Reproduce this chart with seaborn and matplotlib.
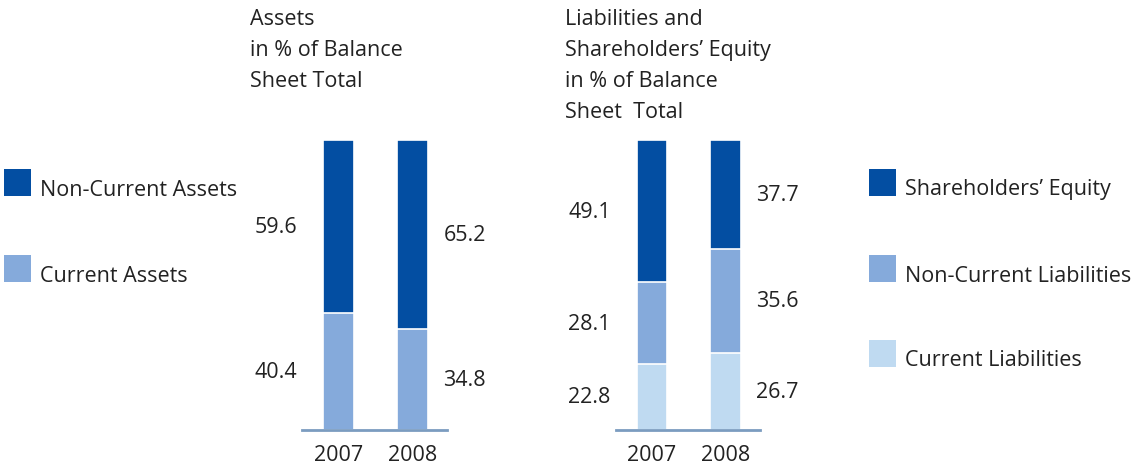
import matplotlib
matplotlib.use("Agg")
import matplotlib.pyplot as plt
import seaborn as sns
import pandas as pd
from matplotlib.patches import Rectangle

years = ["2007", "2008"]

# assets in % of balance sheet total
non_current_assets = [59.6, 65.2]
current_assets = [40.4, 34.8]

# liabilities and equity in % of balance sheet total
equity = [49.1, 37.7]
non_current_liab = [28.1, 35.6]
current_liab = [22.8, 26.7]

asset_labels = ["Non-Current Assets", "Current Assets"]
liab_labels = ["Shareholders\u2019 Equity", "Non-Current Liabilities", "Current Liabilities"]

dark = "#034ea2"
mid = "#85aadb"
light = "#bfdaf1"
base_col = "#7b9cc0"
txt = "#222222"

sns.set_theme(style="white")
plt.rcParams["font.family"] = ["Open Sans", "DejaVu Sans"]
FS = 15.5

W, H = 1138, 464
fig = plt.figure(figsize=(W / 100, H / 100), dpi=100)


def px_axes(x0, x1, ytop, ybot):
    return fig.add_axes([x0 / W, (H - ybot) / H, (x1 - x0) / W, (ybot - ytop) / H])


def stacked(ax, layers, colors):
    # layers bottom -> top; draw cumulative totals from largest down
    cums = []
    run = [0.0, 0.0]
    for layer in layers:
        run = [a + b for a, b in zip(run, layer)]
        cums.append(list(run))
    for cum, col in reversed(list(zip(cums, colors))):
        df = pd.DataFrame({"year": years, "val": cum})
        sns.barplot(data=df, x="year", y="val", color=col, width=0.42,
                    edgecolor="white", linewidth=1.2, saturation=1, ax=ax)
    ax.set_ylim(0, 100)
    ax.set_xlim(-0.49, 1.47)
    ax.set_xlabel("")
    ax.set_ylabel("")
    ax.set_yticks([])
    for s in ["top", "left", "right"]:
        ax.spines[s].set_visible(False)
    ax.spines["bottom"].set_color(base_col)
    ax.spines["bottom"].set_linewidth(2)
    ax.tick_params(axis="x", length=0, pad=10, labelsize=FS, labelcolor=txt)
    return cums


def value_labels(ax, layers, cums):
    for i in range(len(years)):
        for layer, cum in zip(layers, cums):
            lo = cum[i] - layer[i]
            mid_y = (lo + cum[i]) / 2
            if i == 0:
                ax.text(-0.56, mid_y, f"{layer[i]:.1f}", ha="right", va="center",
                        fontsize=FS, color=txt)
            else:
                ax.text(1.42, mid_y, f"{layer[i]:.1f}", ha="left", va="center",
                        fontsize=FS, color=txt)


ax1 = px_axes(302, 447, 141, 431)
layers1 = [current_assets, non_current_assets]
c1 = stacked(ax1, layers1, [mid, dark])
value_labels(ax1, layers1, c1)

ax2 = px_axes(616, 760, 141, 431)
layers2 = [current_liab, non_current_liab, equity]
c2 = stacked(ax2, layers2, [light, mid, dark])
value_labels(ax2, layers2, c2)

fig.text(250 / W, 1 - 9 / H, "Assets\nin % of Balance\nSheet Total", ha="left", va="top",
         fontsize=FS, color=txt, linespacing=1.62)
fig.text(565 / W, 1 - 9 / H, "Liabilities and\nShareholders\u2019 Equity\nin % of Balance\nSheet  Total",
         ha="left", va="top", fontsize=FS, color=txt, linespacing=1.62)


def legend(x, ys, labels, colors):
    for y, lab, col in zip(ys, labels, colors):
        fig.add_artist(Rectangle((x / W, 1 - (y + 27) / H), 27 / W, 27 / H,
                                 transform=fig.transFigure, color=col, lw=0))
        fig.text((x + 36) / W, 1 - (y + 20) / H, lab, ha="left", va="center",
                 fontsize=FS, color=txt)


legend(4, [170, 256], asset_labels, [dark, mid])
legend(869, [170, 256, 341], liab_labels, [dark, mid, light])

fig.savefig("out.png", dpi=100)
